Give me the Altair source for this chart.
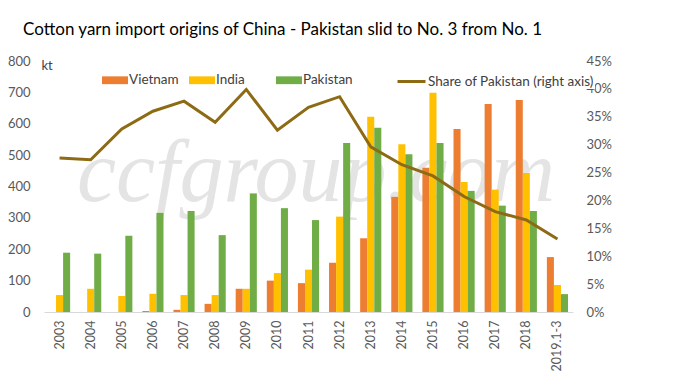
import altair as alt
import pandas as pd

years = ["2003", "2004", "2005", "2006", "2007", "2008", "2009", "2010", "2011",
         "2012", "2013", "2014", "2015", "2016", "2017", "2018", "2019.1-3"]
vietnam = [0, 0, 0, 3, 7, 26, 74, 100, 92, 157, 235, 367, 460, 583, 663, 676, 175]
india = [54, 74, 51, 58, 54, 54, 74, 124, 135, 304, 622, 535, 699, 414, 390, 443, 86]
pakistan = [189, 186, 243, 316, 322, 245, 378, 331, 293, 539, 587, 503, 539, 386, 339, 322, 57]
share = [0.276, 0.273, 0.328, 0.360, 0.378, 0.340, 0.399, 0.326, 0.367, 0.386,
         0.296, 0.264, 0.244, 0.207, 0.180, 0.165, 0.131]

countries = ["Vietnam", "India", "Pakistan"]
bar_colors = ["#ED7D31", "#FFC000", "#70AD47"]
line_name = "Share of Pakistan (right axis)"
line_color = "#8D6B15"
FONT = "Lato"

rows = []
for i, y in enumerate(years):
    for c, vals in zip(countries, [vietnam, india, pakistan]):
        rows.append({"year": y, "country": c, "kt": vals[i]})
bars_df = pd.DataFrame(rows)
line_df = pd.DataFrame({"year": years, "share": share, "series": [line_name] * len(years)})
wm_df = pd.DataFrame({"t": ["ccfgroup.com"]})

xenc = alt.X("year:N", sort=years, title=None,
             scale=alt.Scale(paddingInner=0.32, paddingOuter=0.16),
             axis=alt.Axis(labelAngle=-90, labelFontSize=12.5, labelColor="#595959",
                           labelFont=FONT, ticks=False, domainColor="#D9D9D9",
                           labelPadding=8, labelAlign="right", labelBaseline="middle"))

watermark = alt.Chart(wm_df).mark_text(
    font="Liberation Serif", fontStyle="italic", fontSize=88, color="#E4E4E4",
    align="center", baseline="alphabetic"
).encode(text="t:N", x=alt.value(272), y=alt.value(140))

bars = alt.Chart(bars_df).mark_bar().encode(
    x=xenc,
    xOffset=alt.XOffset("country:N", sort=countries,
                        scale=alt.Scale(paddingInner=0, paddingOuter=0)),
    y=alt.Y("kt:Q", title="kt",
            scale=alt.Scale(domain=[0, 800], nice=False),
            axis=alt.Axis(values=list(range(0, 801, 100)), grid=False, ticks=False,
                          domain=False, labelFontSize=13, labelColor="#595959",
                          labelFont=FONT, labelPadding=14,
                          titleAngle=0, titleX=-3, titleY=4, titleAlign="left",
                          titleBaseline="middle", titleFontSize=13,
                          titleFontWeight="normal", titleColor="#404040", titleFont=FONT)),
    color=alt.Color("country:N", sort=countries,
                    scale=alt.Scale(domain=countries, range=bar_colors),
                    legend=alt.Legend(title=None, orient="none", legendX=58, legendY=6,
                                      direction="horizontal", gridAlign="all",
                                      columnPadding=10, labelOffset=1, labelLimit=300,
                                      symbolType="M-1,-0.3H1V0.3H-1Z", symbolSize=676,
                                      symbolStrokeWidth=0, labelFontSize=13.5,
                                      labelFont=FONT, labelColor="#404040", padding=0)),
)

line = alt.Chart(line_df).mark_line(strokeWidth=3).encode(
    x=alt.X("year:N", sort=years),
    y=alt.Y("share:Q", title=None,
            scale=alt.Scale(domain=[0, 0.45], nice=False),
            axis=alt.Axis(orient="right", format=".0%",
                          values=[0, 0.05, 0.1, 0.15, 0.2, 0.25, 0.3, 0.35, 0.4, 0.45],
                          grid=False, ticks=False, domain=False, labelFontSize=13,
                          labelColor="#595959", labelFont=FONT, labelPadding=13)),
    stroke=alt.Stroke("series:N",
                      scale=alt.Scale(domain=[line_name], range=[line_color]),
                      legend=alt.Legend(title=None, orient="none", legendX=351, legendY=4,
                                        symbolType="stroke", symbolSize=784,
                                        symbolStrokeWidth=3, labelOffset=1, labelLimit=300,
                                        labelFontSize=13.5, labelFont=FONT,
                                        labelColor="#404040", padding=1,
                                        fillColor="white")),
)

chart = alt.layer(watermark, bars, line).resolve_scale(
    y="independent", color="independent", stroke="independent"
).properties(
    width=529, height=251,
    padding={"left": 36, "top": 53, "right": 96, "bottom": 71},
    autosize=alt.AutoSizeParams(type="none"),
    title=alt.TitleParams("Cotton yarn import origins of China - Pakistan slid to No. 3 from No. 1",
                          anchor="start", frame="group", dx=-21, dy=26, offset=29,
                          baseline="alphabetic", fontSize=17, fontWeight="normal",
                          font=FONT, color="#000000"),
).configure_view(stroke=None)

chart.save("out.html", embed_options={"renderer": "svg", "actions": False})
